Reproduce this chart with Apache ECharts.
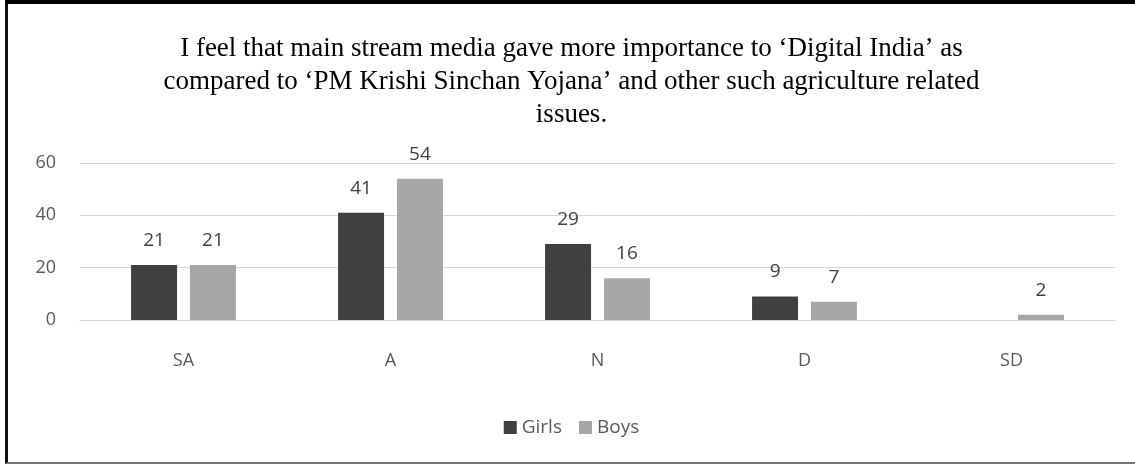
<!DOCTYPE html>
<html>
<head>
<meta charset="utf-8">
<title>ECharts</title>
<script src="https://cdn.jsdelivr.net/npm/echarts@6/dist/echarts.min.js"></script>
<style>
  html, body { margin: 0; padding: 0; background: #fff; }
  #frame {
    position: absolute; left: 5px; top: 0;
    width: 1127px; height: 458px;
    border-top: 4px solid #000;
    border-left: 3px solid #111;
    border-bottom: 2px solid #777;
  }
  #main { width: 1127px; height: 458px; }
</style>
</head>
<body>
<div id="frame"><div id="main"></div></div>
<script type="text/javascript">
    // 数据
    var titleText = "I feel that main stream media gave more importance to \u2018Digital India\u2019 as\ncompared to \u2018PM Krishi Sinchan Yojana\u2019 and other such agriculture related\nissues.";
    var categories = ['SA', 'A', 'N', 'D', 'SD'];
    var girls = [21, 41, 29, 9, null];
    var boys = [21, 54, 16, 7, 2];

    var myChart = echarts.init(document.getElementById('main'));

    var labelStyle = {
        show: true,
        position: 'top',
        distance: 15,
        color: '#404040',
        fontSize: 19,
        fontFamily: 'Open Sans'
    };

    var option = {
        animation: false,
        title: {
            text: titleText,
            left: 'center',
            top: 23,
            textStyle: {
                fontFamily: 'Liberation Serif',
                fontWeight: 'normal',
                fontSize: 27,
                lineHeight: 33,
                color: '#000'
            }
        },
        grid: {
            left: 72,
            right: 20,
            top: 159,
            bottom: 142
        },
        legend: {
            bottom: 20,
            left: 'center',
            itemWidth: 13,
            itemHeight: 13,
            itemGap: 17,
            icon: 'rect',
            textStyle: { color: '#595959', fontSize: 19, fontFamily: 'Open Sans' },
            data: ['Girls', 'Boys']
        },
        xAxis: {
            type: 'category',
            data: categories,
            axisLine: { show: true, lineStyle: { color: '#d9d9d9' } },
            axisTick: { show: false },
            axisLabel: { color: '#595959', fontSize: 18, fontFamily: 'Open Sans', margin: 32 }
        },
        yAxis: {
            type: 'value',
            min: 0,
            max: 60,
            interval: 20,
            axisLine: { show: false },
            axisTick: { show: false },
            axisLabel: { color: '#595959', fontSize: 18, fontFamily: 'Open Sans', margin: 24 },
            splitLine: { lineStyle: { color: '#d9d9d9' } }
        },
        series: [
            {
                name: 'Girls',
                type: 'bar',
                data: girls,
                barWidth: 46,
                barGap: '28%',
                itemStyle: { color: '#404040' },
                label: labelStyle
            },
            {
                name: 'Boys',
                type: 'bar',
                data: boys,
                barWidth: 46,
                itemStyle: { color: '#a9a6a6' },
                label: labelStyle
            }
        ]
    };

    myChart.setOption(option);
</script>
</body>
</html>
